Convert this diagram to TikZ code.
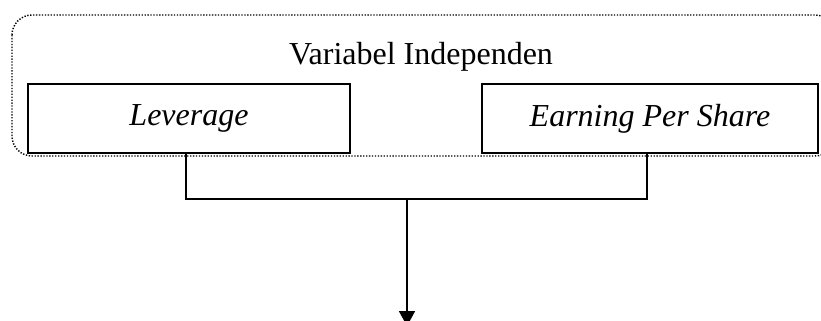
\documentclass[tikz,border=0pt]{standalone}
\usepackage{fontspec}
\setmainfont{Liberation Serif}
\usetikzlibrary{arrows.meta,positioning}
\tikzstyle{varbox} = [draw, line width=0.6pt, minimum height=25.9pt, inner sep=0pt, font=\itshape]
\tikzstyle{link} = [line width=0.6pt]
\tikzstyle{arrow} = [line width=0.6pt, -{Triangle[width=6pt,length=5.6pt]}]
\tikzstyle{group} = [line width=0.55pt, dash pattern=on 0.5pt off 0.6pt, rounded corners=7.5pt]

\begin{document}
\begin{tikzpicture}[x=0.375pt,y=-0.375pt]
\fontsize{12}{14}\selectfont
\clip (0,0) rectangle (821,320);
% independent variables
\draw[group] (12,15) rectangle (835,156);
\node (title) at (421,57) {Variabel Independen};
\node[varbox, minimum width=120.75pt] (lev) at (189,118.5) {Leverage};
\node[varbox, minimum width=126pt] (eps) at (650,118.5) {Earning Per Share};
% joining lines
\coordinate (join) at (407,199);
\coordinate (out) at (407,326);
\draw[link] ([xshift=-1.1pt]lev.south) |- (join) -| ([xshift=-1.1pt]eps.south);
\draw[arrow] (join) -- (out);
\end{tikzpicture}
\end{document}
